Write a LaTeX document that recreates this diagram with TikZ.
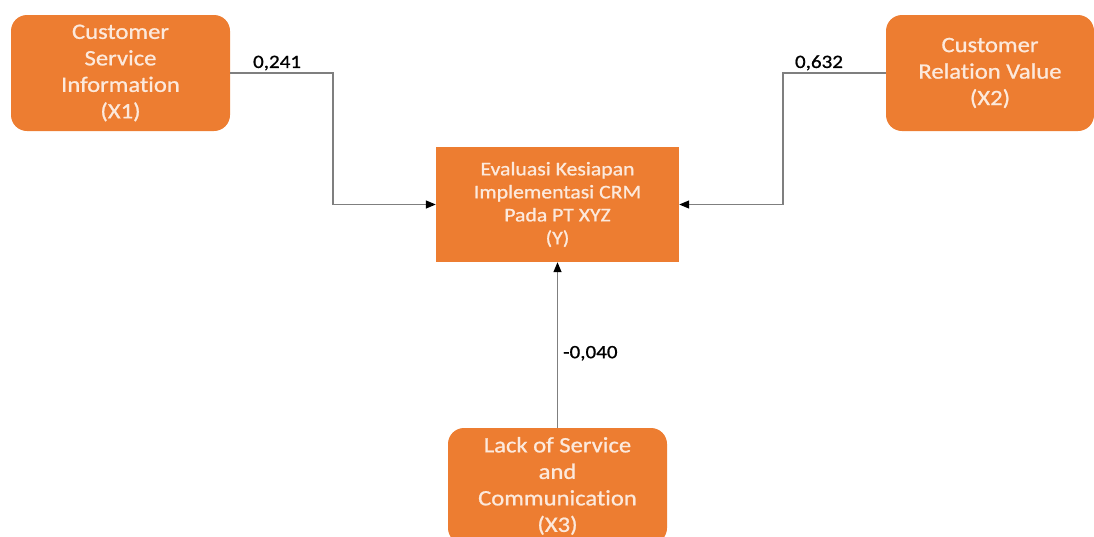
\documentclass[tikz,border=0pt]{standalone}
\usepackage{fontspec}
\setmainfont{Carlito}[FakeStretch=1.12, FakeBold=0.9, Ligatures=NoCommon]
\usetikzlibrary{arrows.meta,positioning,calc}
\definecolor{boxorange}{HTML}{ED7D31}
\definecolor{boxtext}{HTML}{FCE9DC}
\definecolor{linkgray}{HTML}{7F7F7F}

\tikzset{
  varbox/.style={fill=boxorange, text=boxtext, rounded corners=16pt, align=center,
    minimum width=219pt, minimum height=116pt, inner sep=0pt,
    font=\fontsize{22}{26.5}\selectfont},
  mainbox/.style={fill=boxorange, text=boxtext, align=center,
    minimum width=243pt, minimum height=115pt, inner sep=0pt,
    font=\fontsize{19.4}{23}\selectfont},
  link/.style={draw=linkgray, line width=1.3pt, -{Triangle[length=10pt,width=8pt,color=black]}},
  coef/.style={font=\fontsize{18.8}{22}\selectfont, text=black, inner sep=2pt}
}

\begin{document}
\begin{tikzpicture}[x=1pt,y=-1pt]
      \useasboundingbox (0,0) rectangle (1094,536);
      \clip (0,0) rectangle (1094,536);
      \node[varbox] (x1) at (120.5,73) {Customer\\ Service\\ Information\\ (X1)};
      \node[varbox, minimum width=208pt] (x2) at (990,73) {Customer\\ Relation Value\\ (X2)};
      \node[mainbox] (y) at (557.5,204.5) {Evaluasi Kesiapan\\ Implementasi CRM\\ Pada PT XYZ\\ (Y)};
      \node[varbox] (x3) at (557.5,486) {Lack of Service\\ and\\ Communication\\ (X3)};
      \coordinate (k1) at (333,204.5);
      \coordinate (k2) at (783,204.5);
      % paths
      \draw[link] (x1.east) -| node[coef, pos=0.228, above]{0,241} (k1) |- (y.west);
      \draw[link] (x2.west) -| node[coef, pos=0.325, above]{0,632} (k2) |- (y.east);
      \draw[link] (x3.north) -- node[coef, pos=0.45, right, xshift=3pt]{-0,040} (y.south);
    \end{tikzpicture}
\end{document}
